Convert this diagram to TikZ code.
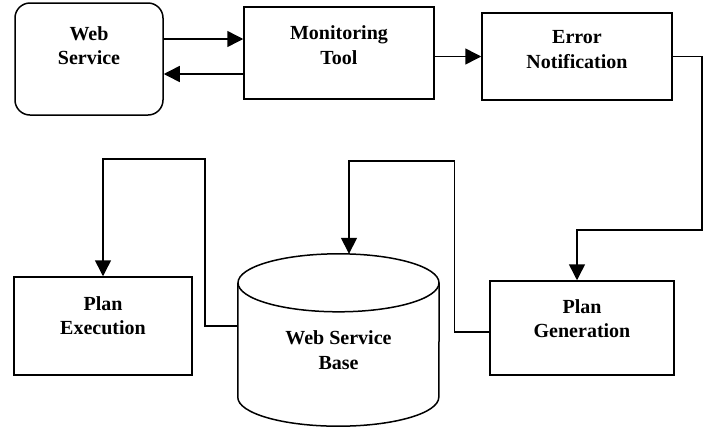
\documentclass[tikz,border=0pt]{standalone}
\usepackage{fontspec}
\setmainfont{Liberation Serif}
\usetikzlibrary{arrows.meta}
\begin{document}
\begin{tikzpicture}[x=1pt, y=-1pt,
    box/.style={draw, line width=1.5pt},
    lbl/.style={font=\fontsize{20}{24.5}\selectfont\bfseries, align=center},
    db/.style={line width=1.5pt},
    arr/.style={line width=1.5pt, -{Triangle[length=16pt,width=16pt]}}]
    \useasboundingbox (0,0) rectangle (704,429);
    \node[box, rounded corners=15pt, minimum width=148pt, minimum height=112pt,
      label={[lbl, yshift=13.5pt]center:Web\\Service}] (ws) at (89,59) {};
    \node[box, minimum width=190pt, minimum height=92pt,
      label={[lbl, yshift=8pt]center:Monitoring\\Tool}] (mon) at (339,53) {};
    \node[box, minimum width=190pt, minimum height=87pt,
      label={[lbl, yshift=7pt]center:Error\\Notification}] (err) at (577,56.5) {};
    \node[box, minimum width=178pt, minimum height=98pt,
      label={[lbl, yshift=10.5pt]center:Plan\\Execution}] (exe) at (103,326) {};
    \node[box, minimum width=184pt, minimum height=94pt,
      label={[lbl, yshift=9.5pt]center:Plan\\Generation}] (gen) at (582,328) {};
    % database cylinder
    \node[minimum width=201pt, minimum height=172pt, inner sep=0pt,
      label={[lbl, yshift=-10pt]center:Web Service\\Base}] (base) at (338.5,340) {};
    \draw[db] ([yshift=-29pt]base.north) ellipse [x radius=100.5, y radius=29];
    \draw[db] ([yshift=-29pt]base.north west) -- ([yshift=29pt]base.south west)
      arc [start angle=180, end angle=0, x radius=100.5, y radius=29]
      -- ([yshift=-29pt]base.north east);
    \draw[arr] ([yshift=20pt]ws.east) -- ([yshift=20pt]ws.east -| mon.west);
    \draw[arr] ([yshift=-15pt]ws.east -| mon.west) -- ([yshift=-15pt]ws.east);
    \draw[arr] (mon.east |- err.west) -- (err.west);
    \draw[arr] (err.east) -- ++(29,0) -- ++(0,173.5) -| ([xshift=-5pt]gen.north);
    \draw[arr] ([yshift=14pt]base.west) -- ++(-33,0) -- ++(0,-167) -| (exe.north);
    \draw[arr] ([yshift=-4pt]gen.west) -- ++(-35,0) -- ++(0,-171) -| ([xshift=10.5pt]base.north);
\end{tikzpicture}
\end{document}
